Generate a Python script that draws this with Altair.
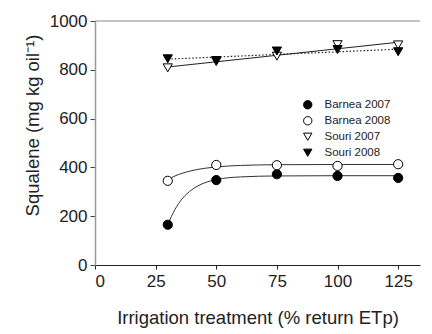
import altair as alt
import pandas as pd

# ---- data ----
x_levels = [30, 50, 75, 100, 125]
barnea_2007 = [165, 348, 372, 365, 357]
barnea_2008 = [345, 410, 409, 406, 413]
souri_2007 = [808, 834, 856, 903, 902]
souri_2008 = [845, 838, 877, 883, 874]

series_names = ["Barnea 2007", "Barnea 2008", "Souri 2007", "Souri 2008"]
series_fill = ["black", "white", "white", "black"]
series_shape = ["circle", "circle", "triangle-down", "triangle-down"]
series_stroke = ["black", "black", "black", "black"]

# fitted curves
curve_x = [30, 33, 36, 40, 45, 50, 60, 75, 100, 125]
barnea_2007_fit = [165, 228, 272, 309, 336, 350, 361, 365, 366, 366]
barnea_2008_fit = [350, 365, 376, 387, 396, 402, 408, 411, 412, 412]

x_ticks = [0, 25, 50, 75, 100, 125]
y_ticks = [0, 200, 400, 600, 800, 1000]

# ---- tables ----
rows = []
for name, vals in zip(series_names, [barnea_2007, barnea_2008, souri_2007, souri_2008]):
    for x, v in zip(x_levels, vals):
        rows.append({"series": name, "x": x, "y": v})
pts = pd.DataFrame(rows)

crows = []
for name, vals in zip(["Barnea 2007", "Barnea 2008"], [barnea_2007_fit, barnea_2008_fit]):
    for x, v in zip(curve_x, vals):
        crows.append({"series": name, "x": x, "y": v})
curves = pd.DataFrame(crows)

FONT = "Liberation Sans"
xscale = alt.Scale(domain=[0, 134], nice=False, zero=False)
yscale = alt.Scale(domain=[0, 1000], nice=False)

xaxis = alt.Axis(values=x_ticks, title="Irrigation treatment (% return ETp)", format="d",
                 grid=False, domainColor="#222", tickColor="#222", tickSize=4,
                 labelFont=FONT, labelFontSize=17, labelColor="#222", labelPadding=4,
                 titleFont=FONT, titleFontSize=18.5, titleFontWeight="normal", titleColor="#222",
                 titlePadding=19)
yaxis = alt.Axis(values=y_ticks, title="Squalene (mg kg oil⁻¹)", format="d",
                 grid=False, domainColor="#999", domainWidth=1.5, tickColor="#444", tickSize=5,
                 labelFont=FONT, labelFontSize=17, labelColor="#222", labelPadding=3,
                 titleFont=FONT, titleFontSize=18.5, titleFontWeight="normal", titleColor="#222",
                 titlePadding=7, titleY=104)

xenc = alt.X("x:Q", scale=xscale, axis=xaxis)
yenc = alt.Y("y:Q", scale=yscale, axis=yaxis)

curve_layer = alt.Chart(curves).mark_line(color="#333", strokeWidth=1, interpolate="monotone").encode(
    x=xenc, y=yenc, detail="series:N")

souri_pts = pts[pts["series"].str.startswith("Souri")]
reg07 = alt.Chart(souri_pts[souri_pts["series"] == "Souri 2007"]).transform_regression(
    "x", "y", extent=[30, 125]).mark_line(color="#222", strokeWidth=1.2).encode(x=xenc, y=yenc)
reg08 = alt.Chart(souri_pts[souri_pts["series"] == "Souri 2008"]).transform_regression(
    "x", "y", extent=[30, 125]).mark_line(color="#222", strokeWidth=1.2, strokeDash=[1.5, 2]).encode(x=xenc, y=yenc)

leg = alt.Legend(title=None, orient="none", legendX=207, legendY=78,
                 labelFont=FONT, labelFontSize=11.5, labelColor="#222",
                 symbolStrokeWidth=1, symbolSize=70, rowPadding=3, labelOffset=11)

points = alt.Chart(pts).mark_point(filled=False, strokeWidth=1, opacity=1, size=85).encode(
    x=xenc, y=yenc,
    shape=alt.Shape("series:N", scale=alt.Scale(domain=series_names, range=series_shape), legend=leg),
    fill=alt.Fill("series:N", scale=alt.Scale(domain=series_names, range=series_fill), legend=leg),
    stroke=alt.Stroke("series:N", scale=alt.Scale(domain=series_names, range=series_stroke), legend=leg),
)

top_line = alt.Chart(pd.DataFrame({"y": [1000]})).mark_rule(color="#888", strokeWidth=1).encode(
    y=alt.Y("y:Q", scale=yscale))

chart = alt.layer(top_line, curve_layer, reg07, reg08, points).properties(
    width=325, height=244,
    autosize=alt.AutoSizeParams(type="none"),
    padding={"left": 87, "top": 13, "right": 4, "bottom": 72},
    background="white",
).configure_view(stroke=None)

chart.save("out.html", embed_options={"renderer": "svg", "actions": False})
